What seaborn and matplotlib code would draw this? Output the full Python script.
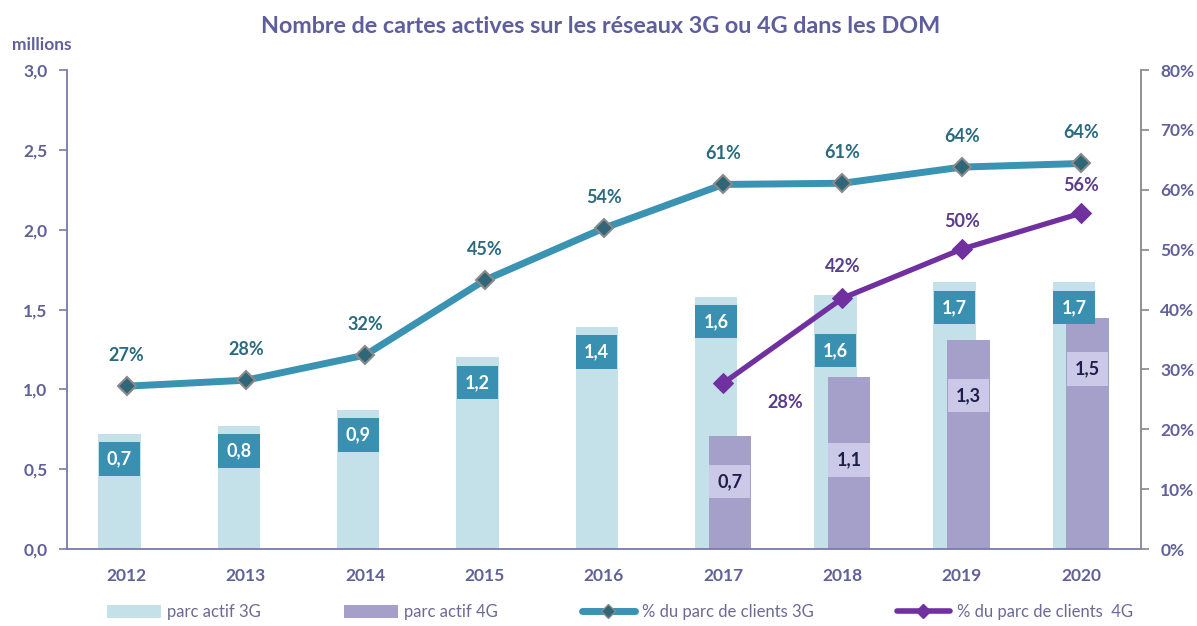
import numpy as np
import pandas as pd
import matplotlib
matplotlib.use("Agg")
import matplotlib.pyplot as plt
from matplotlib.patches import Patch
from matplotlib.lines import Line2D
from matplotlib.ticker import FuncFormatter, FixedLocator
import seaborn as sns

# ---- data ----
years = ["2012", "2013", "2014", "2015", "2016", "2017", "2018", "2019", "2020"]
parc_3g = [0.72, 0.77, 0.87, 1.20, 1.39, 1.58, 1.59, 1.67, 1.67]
label_3g = ["0,7", "0,8", "0,9", "1,2", "1,4", "1,6", "1,6", "1,7", "1,7"]
years_4g = ["2017", "2018", "2019", "2020"]
parc_4g = [0.71, 1.08, 1.31, 1.45]
label_4g = ["0,7", "1,1", "1,3", "1,5"]
pct_3g = [27.2, 28.2, 32.4, 44.9, 53.6, 60.9, 61.1, 63.8, 64.4]
pct_4g = [27.7, 41.9, 50.1, 56.1]

sns.set_theme(style="white")
plt.rcParams["font.family"] = ["Lato", "DejaVu Sans"]

C_3G_BAR = "#C4E1EA"
C_4G_BAR = "#A4A0CA"
C_3G_LINE = "#3A93B3"
C_4G_LINE = "#7030A0"
C_3G_BOX = "#3A90B0"
C_4G_BOX = "#CCC8E7"
C_AXIS_TXT = "#60609A"
C_3G_PCT = "#2C6A80"
C_4G_PCT = "#5A3C8C"

fig = plt.figure(figsize=(11.97, 6.26), dpi=100)
ax = fig.add_axes([0.056, 0.123, 0.897, 0.765])

idx = np.arange(len(years))
idx4 = np.array([years.index(y) for y in years_4g])
off3, off4, bw = -0.06, 0.055, 0.355

df3 = pd.DataFrame({"pos": idx + off3, "val": parc_3g})
df4 = pd.DataFrame({"pos": idx4 + off4, "val": parc_4g})
sns.barplot(data=df3, x="pos", y="val", native_scale=True, width=bw,
            color=C_3G_BAR, saturation=1, errorbar=None, linewidth=0, ax=ax)
sns.barplot(data=df4, x="pos", y="val", native_scale=True, width=bw,
            color=C_4G_BAR, saturation=1, errorbar=None, linewidth=0, ax=ax)

ax.set_xlim(-0.5, len(years) - 0.5)
ax.set_ylim(0, 3.0)
ax.set_xlabel("")
ax.set_ylabel("")
ax.set_yticks(np.arange(0, 3.01, 0.5))
ax.yaxis.set_major_formatter(FuncFormatter(lambda v, p: f"{v:.1f}".replace(".", ",")))
ax.set_xticks(idx)
ax.set_xticklabels(years)
ax.xaxis.set_minor_locator(FixedLocator(np.arange(-0.5, len(years), 1.0)))
ax.tick_params(axis="x", which="major", length=0, pad=14, labelsize=12.5,
               labelcolor=C_AXIS_TXT)
ax.tick_params(axis="x", which="minor", length=6, width=1.2, color="#7A7AAA", direction="out")
ax.tick_params(axis="y", length=6, width=1.2, color="#7A7AAA", direction="out",
               labelsize=12.5, labelcolor=C_AXIS_TXT, pad=8)
ax.tick_params(axis="both", bottom=True, left=True)
for lab in ax.get_xticklabels() + ax.get_yticklabels():
    lab.set_fontweight("bold")
for s in ["top", "right"]:
    ax.spines[s].set_visible(False)
for s in ["left", "bottom"]:
    ax.spines[s].set_color("#7A7AAA")
    ax.spines[s].set_linewidth(1.3)

# bar labels
off_3g = [18, 18, 18, 18, 18, 18, 40, 18, 18]
for i, (v, t) in enumerate(zip(parc_3g, label_3g)):
    ax.annotate(t, xy=(idx[i] + off3, v), xytext=(0, -off_3g[i]), textcoords="offset points",
                ha="center", va="center", fontsize=13, fontweight="bold", color="white",
                bbox=dict(boxstyle="square,pad=0.45", fc=C_3G_BOX, ec="none"), zorder=5)
off_4g = [33, 60, 40, 37]
for i, (v, t) in enumerate(zip(parc_4g, label_4g)):
    ax.annotate(t, xy=(idx4[i] + off4, v), xytext=(0, -off_4g[i]), textcoords="offset points",
                ha="center", va="center", fontsize=13, fontweight="bold", color="#1E1E4A",
                bbox=dict(boxstyle="square,pad=0.45", fc=C_4G_BOX, ec="none"), zorder=5)

# lines on secondary axis
ax2 = ax.twinx()
sns.lineplot(x=idx, y=pct_3g, color=C_3G_LINE, linewidth=5, marker="D", markersize=9,
             markerfacecolor="#2F6678", markeredgecolor="#8A8A8A", markeredgewidth=1.5, ax=ax2)
sns.lineplot(x=idx4, y=pct_4g, color=C_4G_LINE, linewidth=3.8, marker="D", markersize=10,
             markerfacecolor=C_4G_LINE, markeredgecolor=C_4G_LINE, ax=ax2)
ax2.set_ylim(0, 80)
ax2.set_xlim(-0.5, len(years) - 0.5)
ax2.set_yticks(np.arange(0, 81, 10))
ax2.yaxis.set_major_formatter(FuncFormatter(lambda v, p: f"{v:.0f}%"))
ax2.tick_params(axis="y", length=6, width=1.2, color="#888888", direction="out", right=True,
                labelsize=12.5, labelcolor=C_AXIS_TXT, pad=8)
for lab in ax2.get_yticklabels():
    lab.set_fontweight("bold")
for s in ["top", "left", "bottom"]:
    ax2.spines[s].set_visible(False)
ax2.spines["right"].set_color("#888888")
ax2.spines["right"].set_linewidth(1.3)
ax2.set_ylabel("")

for i, v in enumerate(pct_3g):
    ax2.annotate(f"{round(v)}%", xy=(idx[i], v), xytext=(0, 22), textcoords="offset points",
                 ha="center", va="center", fontsize=13, fontweight="bold", color=C_3G_PCT)
pct4_offsets = [(45, -14), (0, 23), (0, 20), (0, 20)]
for i, v in enumerate(pct_4g):
    ax2.annotate(f"{round(v)}%", xy=(idx4[i], v), xytext=pct4_offsets[i], textcoords="offset points",
                 ha="center", va="center", fontsize=13, fontweight="bold", color=C_4G_PCT)

# title & unit
fig.text(0.502, 0.958, "Nombre de cartes actives sur les réseaux 3G ou 4G dans les DOM",
         ha="center", va="center", fontsize=16.8, fontweight="bold", color="#5E5E9C")
fig.text(0.035, 0.928, "millions", ha="center", va="center", fontsize=12.5,
         fontweight="bold", color=C_AXIS_TXT)

# legend
handles = [
    Patch(facecolor=C_3G_BAR, edgecolor="none", label="parc actif 3G"),
    Patch(facecolor=C_4G_BAR, edgecolor="none", label="parc actif 4G"),
    Line2D([], [], color=C_3G_LINE, linewidth=5, marker="D", markersize=7,
           markerfacecolor="#2F6678", markeredgecolor="#8A8A8A", label="% du parc de clients 3G"),
    Line2D([], [], color=C_4G_LINE, linewidth=4, marker="D", markersize=7,
           markerfacecolor=C_4G_LINE, markeredgecolor=C_4G_LINE, label="% du parc de clients  4G"),
]
leg = fig.legend(handles=handles, loc="center", bbox_to_anchor=(0.518, 0.022), ncol=4,
                 frameon=False, fontsize=12, handlelength=3.2, handleheight=0.8,
                 columnspacing=5.0, handletextpad=0.4)
for t in leg.get_texts():
    t.set_color("#6A6A94")

fig.savefig("out.png", dpi=100)
